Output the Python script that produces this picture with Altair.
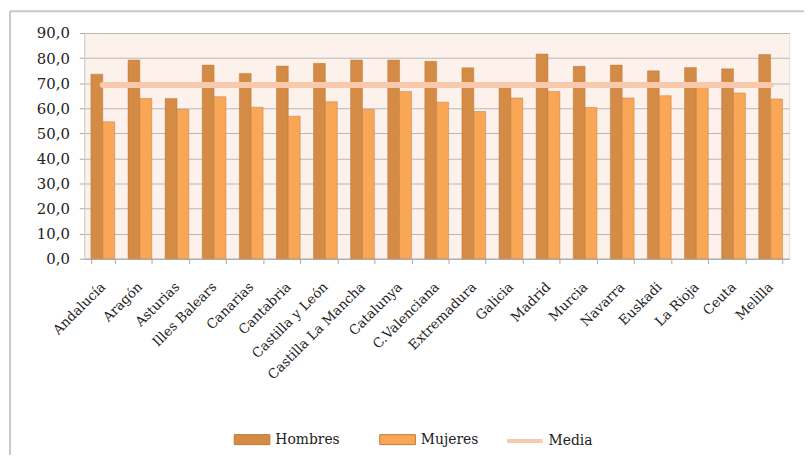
import altair as alt
import pandas as pd

regiones = ["Andalucía", "Aragón", "Asturias", "Illes Balears", "Canarias", "Cantabria",
            "Castilla y León", "Castilla La Mancha", "Catalunya", "C.Valenciana", "Extremadura",
            "Galicia", "Madrid", "Murcia", "Navarra", "Euskadi", "La Rioja", "Ceuta", "Melilla"]
hombres = [73.6, 79.2, 63.9, 77.2, 73.9, 76.8, 77.9, 79.2, 79.2, 78.7, 76.1,
           68.5, 81.6, 76.7, 77.2, 74.9, 76.2, 75.7, 81.4]
mujeres = [54.6, 63.9, 59.5, 64.6, 60.4, 56.8, 62.6, 59.5, 66.7, 62.4, 58.7,
           64.1, 66.7, 60.3, 64.1, 65.0, 68.5, 66.1, 63.7]
media = 69.3
bar_series = ["Hombres", "Mujeres"]
bar_colors = ["#d38b45", "#f9a657"]
line_series = ["Media"]
line_colors = ["#f9c9ad"]
y_ticks = [0, 10, 20, 30, 40, 50, 60, 70, 80, 90]

rows = []
for r, h, m in zip(regiones, hombres, mujeres):
    rows.append({"region": r, "serie": "Hombres", "valor": h})
    rows.append({"region": r, "serie": "Mujeres", "valor": m})
bars_df = pd.DataFrame(rows)
line_df = pd.DataFrame({"region": [regiones[0], regiones[-1]], "valor": [media, media], "serie": ["Media", "Media"]})

FONT = "DejaVu Serif"
W, H = 712, 228

xscale = alt.Scale(domain=regiones, paddingInner=0.36, paddingOuter=0.18)
yscale = alt.Scale(domain=[0, 90])

x_axis = alt.Axis(labelAngle=-45, labelAlign="right", labelBaseline="middle",
                  labelFont=FONT, labelFontSize=13.5, labelColor="#222222",
                  tickBand="extent", tickColor="#a8a8a8", tickSize=5,
                  domainColor="#a8a8a8", labelPadding=21, grid=False, labelOverlap=False)
y_axis = alt.Axis(values=y_ticks, labelExpr="replace(format(datum.value, '.1f'), '.', ',')",
                  labelFont=FONT, labelFontSize=15, labelColor="#222222", labelOverlap=False,
                  tickColor="#a8a8a8", domainColor="#d0d0d0", gridColor="#b8b8b8",
                  labelPadding=10, tickSize=5)

bar_legend = alt.Legend(
    title=None, orient="none", direction="horizontal", legendX=151, legendY=392,
    labelFont=FONT, labelFontSize=14, labelColor="#222222", columnPadding=37,
    symbolSize=1296, symbolStrokeWidth=1, labelOffset=5,
    symbolType="M-1,-0.28L1,-0.28L1,0.28L-1,0.28Z",
)
line_legend = alt.Legend(
    title=None, orient="none", direction="horizontal", legendX=425, legendY=392,
    labelFont=FONT, labelFontSize=14, labelColor="#222222",
    symbolSize=1296, symbolStrokeWidth=4, labelOffset=4, symbolType="stroke",
)

bars = alt.Chart(bars_df).mark_bar(strokeWidth=0.8, stroke="#c07a38", strokeOpacity=0.6).encode(
    x=alt.X("region:N", scale=xscale, sort=regiones, title=None, axis=x_axis),
    xOffset=alt.XOffset("serie:N", scale=alt.Scale(domain=bar_series, paddingInner=0)),
    y=alt.Y("valor:Q", scale=yscale, title=None, axis=y_axis),
    color=alt.Color("serie:N", scale=alt.Scale(domain=bar_series, range=bar_colors), legend=bar_legend),
)

line = alt.Chart(line_df).mark_line(strokeWidth=6, strokeCap="round").encode(
    x=alt.X("region:N", scale=xscale, sort=regiones, title=None, axis=x_axis),
    y=alt.Y("valor:Q", scale=yscale, title=None, axis=y_axis),
    stroke=alt.Stroke("serie:N", scale=alt.Scale(domain=line_series, range=line_colors), legend=line_legend),
)

frame_top = alt.Chart(pd.DataFrame({"a": [0]})).mark_rule(color="#c8c8c8", strokeWidth=2).encode(
    x=alt.value(-75), x2=alt.value(730), y=alt.value(-22))
frame_left = alt.Chart(pd.DataFrame({"a": [0]})).mark_rule(color="#c8c8c8", strokeWidth=2).encode(
    x=alt.value(-75), y=alt.value(-22), y2=alt.value(440))

chart = alt.layer(frame_top, frame_left, bars, line).properties(
    width=W, height=H,
    autosize=alt.AutoSizeParams(type="none"),
    padding={"left": 77, "top": 23, "right": 15, "bottom": 196},
).configure_view(fill="#fdf1ec", stroke="#e6e0dc").configure_axis(gridWidth=1.2)

chart.save("out.html", embed_options={"renderer": "svg", "actions": False})
